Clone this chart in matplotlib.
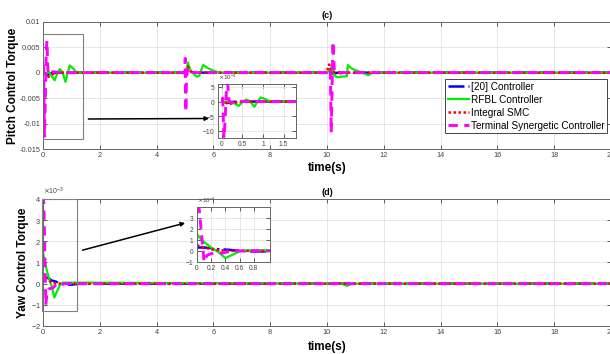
import matplotlib
matplotlib.use("Agg")
import matplotlib.pyplot as plt
import matplotlib.ticker as mticker
from matplotlib.patches import Rectangle

plt.rcParams['font.family'] = ['Liberation Sans', 'DejaVu Sans']
plt.rcParams['axes.unicode_minus'] = False

# ---------------- data ----------------
labels = ["[20] Controller", "RFBL Controller", "Integral SMC", "Terminal Synergetic Controller"]

# Pitch control torque (raw values)
t_blue_p = [0, 0.05, 0.15, 0.3, 0.5, 5.0, 5.08, 5.2, 5.4, 10.0, 10.08, 10.2, 10.4, 20]
v_blue_p = [0.0005, -0.0002, -0.0004, -0.0001, 0, 0, 0.0004, 0.0001, 0, 0, 0.0006, -0.0002, 0, 0]

t_green_p = [0, 0.1, 0.2, 0.3, 0.41, 0.5, 0.59, 0.68, 0.79, 0.86, 0.94, 1.05, 1.15, 1.3,
             5.0, 5.05, 5.1, 5.18, 5.3, 5.41, 5.5, 5.64, 5.8, 6.0, 6.2,
             10.0, 10.08, 10.16, 10.25, 10.34, 10.5, 10.7, 10.74, 10.85, 11.0, 11.2, 11.45, 11.6, 20]
v_green_p = [0, -0.0003, 0.0002, -0.0006, -0.0015, -0.0002, 0.0007, 0.0002, -0.0018, -0.0002, 0.0014, 0.0009, 0.0002, 0,
             0, 0.0003, 0.002, 0.0006, -0.0002, -0.0008, -0.0006, 0.0015, 0.0009, 0.0004, 0,
             0, 0.0004, 0.0012, -0.0004, -0.0009, -0.0008, -0.0007, 0.0015, 0.0009, 0.0005, 0.0001, -0.0005, 0, 0]

t_red_p = [0, 0.05, 0.12, 0.2, 0.3, 0.45, 0.6, 5.0, 5.05, 5.1, 5.2, 5.35, 10.0, 10.04, 10.08, 10.15, 10.3, 20]
v_red_p = [0.001, 0.0003, -0.0006, -0.0008, -0.0004, -0.0001, 0, 0, 0.0008, 0.0012, 0.0002, 0, 0, 0.0012, 0.0016, 0.0003, 0, 0]

t_mag_p = [0, 0.02, 0.05, 0.08, 0.11, 0.14, 0.17, 0.22, 0.35, 0.6, 1.0,
           4.98, 5.01, 5.03, 5.05, 5.08, 5.12, 5.2, 5.4,
           10.0, 10.05, 10.12, 10.15, 10.18, 10.21, 10.26, 10.35, 10.6, 20]
v_mag_p = [0.0015, 0.001, -0.0125, -0.006, 0.004, 0.0063, 0.0005, -0.0004, 0.0002, 0.0, 0.0,
           0.0, 0.0028, -0.0077, -0.002, 0.0006, -0.0003, 0.0001, 0.0,
           0.0, 0.0008, 0.0002, -0.0118, -0.003, 0.0061, 0.0005, -0.0002, 0.0, 0.0]

# Yaw control torque (in units of 1e-3)
t_blue_y = [0, 0.1, 0.2, 0.3, 0.45, 0.6, 0.8, 1.0, 1.3, 20]
v_blue_y = [0.3, 0.3, 0.25, 0.15, 0.1, 0.0, -0.05, -0.05, 0.0, 0.0]

t_green_y = [0, 0.05, 0.1, 0.2, 0.3, 0.4, 0.5, 0.6, 0.7, 1.0, 10.5, 10.7, 10.9, 20]
v_green_y = [1.5, 1.1, 0.8, 0.3, -0.1, -0.65, -0.35, -0.05, 0.05, 0.05, 0.0, -0.1, 0.0, 0.0]

t_red_y = [0, 0.05, 0.1, 0.2, 0.3, 0.5, 1, 20]
v_red_y = [0.5, 0.4, 0.3, 0.15, 0.05, 0.0, 0.0, 0.0]

t_mag_y = [0, 0.03, 0.1, 0.14, 0.2, 0.35, 0.5, 1.0, 20]
v_mag_y = [4.2, 3.8, -1.0, -0.4, -0.25, -0.2, 0.0, 0.0, 0.0]

# ---------------- styles ----------------
styles = [
    dict(color='#0000ff', linestyle='-.', linewidth=1.8),
    dict(color='#00ee00', linestyle='-', linewidth=1.6),
    dict(color='#ff0000', linestyle=(0, (1, 1)), linewidth=1.8),
    dict(color='#ff00ff', linestyle=(0, (3.2, 2.2)), linewidth=2.1),
]
spine_col = '#666666'
tick_col = '#444444'


def style_axes(ax, fs=5.3):
    for s in ax.spines.values():
        s.set_color(spine_col)
        s.set_linewidth(0.7)
    ax.tick_params(direction='in', top=True, right=True, labelsize=fs,
                   colors=tick_col, length=3, width=0.6, pad=2)
    ax.grid(True, color='#e3e3e3', linewidth=0.6)
    ax.set_axisbelow(True)


def gfmt(v, p):
    v = round(v, 6)
    if v == 0:
        return '0'
    return f'{v:g}'


def sci_fmt():
    f = mticker.ScalarFormatter(useMathText=True)
    f.set_powerlimits((-3, -3))
    return f


fig = plt.figure(figsize=(6.10, 3.54), dpi=100)

# ---------------- top: pitch ----------------
ax1 = fig.add_axes([0.0705, 0.579, 0.931, 0.3596])
series_p = [(t_blue_p, v_blue_p), (t_green_p, v_green_p), (t_red_p, v_red_p), (t_mag_p, v_mag_p)]
for (t, v), st, lab in zip(series_p, styles, labels):
    ax1.plot(t, v, label=lab, **st)
ax1.set_xlim(0, 20)
ax1.set_ylim(-0.015, 0.01)
ax1.set_xticks(range(0, 21, 2))
ax1.set_yticks([-0.015, -0.01, -0.005, 0, 0.005, 0.01])
ax1.yaxis.set_major_formatter(mticker.FuncFormatter(gfmt))
style_axes(ax1)
ax1.set_title('(c)', fontsize=6.5, fontweight='bold', pad=3)
ax1.set_xlabel('time(s)', fontsize=8.5, fontweight='bold')
ax1.xaxis.set_label_coords(0.5, -0.1)
ax1.set_ylabel('Pitch Control Torque', fontsize=8.5, fontweight='bold')
ax1.yaxis.set_label_coords(-0.043, 0.5)
ax1.add_patch(Rectangle((-0.02, -0.013), 1.42, 0.0205, fill=False,
                        edgecolor='#808080', linewidth=0.8, zorder=5))
ax1.annotate('', xy=(5.95, -0.009), xytext=(1.5, -0.0091),
             arrowprops=dict(arrowstyle='-|>', color='black', lw=1.1,
                             mutation_scale=6), zorder=6)
leg = ax1.legend(loc='upper right', bbox_to_anchor=(0.993, 0.55), borderaxespad=0,
                 fontsize=7.2, handlelength=2.1, handletextpad=0.2, labelspacing=0.3,
                 borderpad=0.25, fancybox=False, framealpha=1)
leg.get_frame().set_edgecolor('#444444')
leg.get_frame().set_linewidth(0.7)

# inset pitch
ins1 = fig.add_axes([0.357, 0.610, 0.128, 0.1525])
for (t, v), st in zip(series_p, styles):
    ins1.plot(t, v, **st)
ins1.set_xlim(-0.1, 1.8)
ins1.set_ylim(-0.0125, 0.006)
ins1.set_xticks([0, 0.5, 1, 1.5])
ins1.set_yticks([-0.01, -0.005, 0, 0.005])
ins1.yaxis.set_major_formatter(sci_fmt())
ins1.xaxis.set_major_formatter(mticker.FuncFormatter(gfmt))
style_axes(ins1, fs=4.8)
ins1.yaxis.get_offset_text().set_fontsize(4.5)
ins1.yaxis.get_offset_text().set_color(tick_col)

# ---------------- bottom: yaw ----------------
ax2 = fig.add_axes([0.0705, 0.0791, 0.931, 0.3588])
series_y = [(t_blue_y, v_blue_y), (t_green_y, v_green_y), (t_red_y, v_red_y), (t_mag_y, v_mag_y)]
for (t, v), st in zip(series_y, styles):
    ax2.plot(t, [x * 1e-3 for x in v], **st)
ax2.set_xlim(0, 20)
ax2.set_ylim(-2e-3, 4e-3)
ax2.set_xticks(range(0, 21, 2))
ax2.set_yticks([i * 1e-3 for i in range(-2, 5)])
ax2.yaxis.set_major_formatter(sci_fmt())
style_axes(ax2)
ax2.tick_params(axis='y', pad=1.5)
ax2.yaxis.get_offset_text().set_fontsize(5)
ax2.yaxis.get_offset_text().set_color(tick_col)
ax2.set_title('(d)', fontsize=6.5, fontweight='bold', pad=3)
ax2.set_xlabel('time(s)', fontsize=8.5, fontweight='bold')
ax2.xaxis.set_label_coords(0.5, -0.12)
ax2.set_ylabel('Yaw Control Torque', fontsize=8.5, fontweight='bold')
ax2.yaxis.set_label_coords(-0.024, 0.5)
ax2.add_patch(Rectangle((-0.02, -1.27e-3), 1.22, 5.27e-3, fill=False,
                        edgecolor='#808080', linewidth=0.8, zorder=5, clip_on=False))
ax2.annotate('', xy=(5.1, 2.9e-3), xytext=(1.3, 1.55e-3),
             arrowprops=dict(arrowstyle='-|>', color='black', lw=1.1,
                             mutation_scale=6), zorder=6)

# inset yaw
ins2 = fig.add_axes([0.323, 0.260, 0.1197, 0.155])
for (t, v), st in zip(series_y, styles):
    ins2.plot(t, [x * 1e-3 for x in v], **st)
ins2.set_xlim(0, 1.03)
ins2.set_ylim(-1e-3, 3.95e-3)
ins2.set_xticks([0, 0.2, 0.4, 0.6, 0.8])
ins2.set_yticks([-1e-3, 0, 1e-3, 2e-3, 3e-3])
ins2.yaxis.set_major_formatter(sci_fmt())
ins2.xaxis.set_major_formatter(mticker.FuncFormatter(gfmt))
style_axes(ins2, fs=4.8)
ins2.yaxis.get_offset_text().set_fontsize(4.5)
ins2.yaxis.get_offset_text().set_color(tick_col)

fig.savefig('out.png', dpi=100)
